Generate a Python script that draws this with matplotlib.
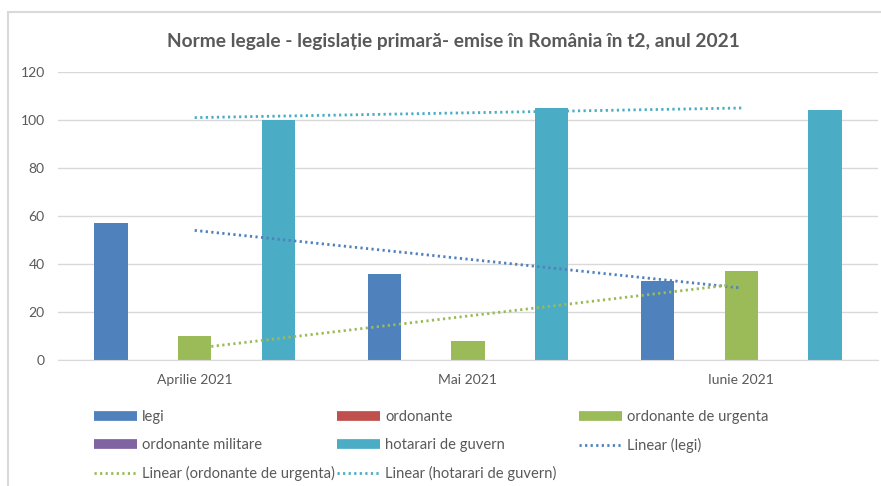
import matplotlib.pyplot as plt
from matplotlib.patches import Rectangle
from matplotlib.lines import Line2D
import numpy as np

months = ['Aprilie 2021', 'Mai 2021', 'Iunie 2021']
legi = [57, 36, 33]
ordonante = [0, 0, 0]
ordonante_urgenta = [10, 8, 37]
ordonante_militare = [0, 0, 0]
hotarari_guvern = [100, 105, 104]

names = ['legi', 'ordonante', 'ordonante de urgenta', 'ordonante militare', 'hotarari de guvern']
series = [legi, ordonante, ordonante_urgenta, ordonante_militare, hotarari_guvern]
colors = ['#4F81BD', '#C0504D', '#9BBB59', '#8064A2', '#4BACC6']

txt = '#595959'
grid = '#D9D9D9'
plt.rcParams['font.family'] = ['Lato', 'DejaVu Sans']

fig = plt.figure(figsize=(8.81, 4.86), dpi=100)
ax = fig.add_axes([58/881, 1-360/486, 820/881, 288/486])

x = np.arange(len(months))
step = 0.153
width = 0.121
for i, (vals, c) in enumerate(zip(series, colors)):
    ax.bar(x + (i-2)*step, vals, width, color=c, zorder=2)

# linear trendlines
trend = [(legi, '#4F81BD', 'Linear (legi)'),
         (ordonante_urgenta, '#9BBB59', 'Linear (ordonante de urgenta)'),
         (hotarari_guvern, '#4BACC6', 'Linear (hotarari de guvern)')]
for vals, c, lab in trend:
    k, b = np.polyfit(x, vals, 1)
    ax.plot(x, k*x + b, color=c, lw=2, linestyle=(0, (0.8, 1.2)), zorder=3)

ax.set_xlim(-0.5, 2.5)
ax.set_ylim(0, 120)
ax.set_yticks(range(0, 121, 20))
ax.set_xticks(x)
ax.set_xticklabels(months)
ax.yaxis.grid(True, color=grid, lw=1, zorder=0)
ax.tick_params(length=0, colors=txt, labelsize=10)
ax.tick_params(axis='x', pad=10)
ax.tick_params(axis='y', pad=9.5)
for s in ['top', 'right', 'left']:
    ax.spines[s].set_visible(False)
ax.spines['bottom'].set_color(grid)

fig.text(453/881, 1-41/486, 'Norme legale - legislație primară- emise în România în t2, anul 2021',
         ha='center', va='center', fontsize=13.8, fontweight='bold', color=txt)

# legend entries in Excel order
bar_h = [Line2D([], [], color=c, lw=7, solid_capstyle='butt') for c in colors]
line_h = [Line2D([], [], color=c, lw=2, linestyle=(0, (0.8, 1.2))) for _, c, _ in trend]
handles = bar_h + line_h
labels = names + [t[2] for t in trend]
col_x = [95, 338, 580]
for col in range(3):
    hs = handles[col::3]
    ls = labels[col::3]
    leg = fig.legend(hs, ls, loc='upper left', bbox_to_anchor=((col_x[col]-1)/881, 1-410/486),
                     frameon=False, fontsize=10.6, handlelength=2.95, handletextpad=0.33,
                     labelspacing=0.95, borderaxespad=0, borderpad=0)
    for t in leg.get_texts():
        t.set_color(txt)

fig.add_artist(Rectangle((8/881, -0.1), 1.0, 1-12/486+0.1, transform=fig.transFigure,
                         fill=False, edgecolor=grid, lw=1.5))

fig.savefig('out.png', dpi=100)
